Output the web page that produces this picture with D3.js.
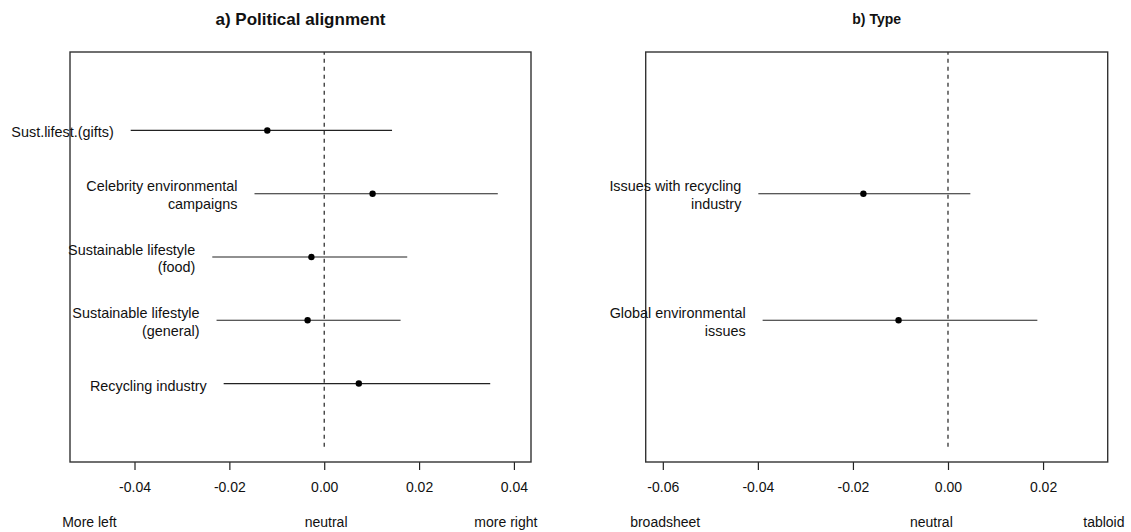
<!DOCTYPE html>
<html>
<head>
<meta charset="utf-8">
<script src="https://cdn.jsdelivr.net/npm/d3@7"></script>
<style>
  html, body { margin: 0; padding: 0; background: #fff; }
  svg { display: block; font-family: "Liberation Sans", Arial, sans-serif; }
</style>
</head>
<body>
<svg id="chart" width="1131" height="532"></svg>
<script>
// ---- Data: panel a) Political alignment ----
const leftTitle = "a) Political alignment";
const leftLabels = [["Sust.lifest.(gifts)"], ["Celebrity environmental", "campaigns"], ["Sustainable lifestyle", "(food)"], ["Sustainable lifestyle", "(general)"], ["Recycling industry"]];
const leftRows = [5, 4, 3, 2, 1];
const leftEst = [-0.0120, 0.0102, -0.0027, -0.0035, 0.0073];
const leftLo = [-0.0408, -0.0147, -0.0236, -0.0227, -0.0212];
const leftHi = [0.0143, 0.0366, 0.0175, 0.0161, 0.0350];
const leftXlim = [-0.05, 0.04];
const leftTicks = [-0.04, -0.02, 0.00, 0.02, 0.04];
const leftEnds = ["More left", "neutral", "more right"];

// ---- Data: panel b) Type ----
const rightTitle = "b) Type";
const rightLabels = [["Issues with recycling", "industry"], ["Global environmental", "issues"]];
const rightRows = [4, 2];
const rightEst = [-0.0178, -0.0104];
const rightLo = [-0.0399, -0.0390];
const rightHi = [0.0047, 0.0188];
const rightXlim = [-0.06, 0.03];
const rightTicks = [-0.06, -0.04, -0.02, 0.00, 0.02];
const rightEnds = ["broadsheet", "neutral", "tabloid"];

const ylim = [0, 6];

const svg = d3.select("#chart");
const plotTop = 52, plotBottom = 462;
const ext = (lim) => { const d = (lim[1] - lim[0]) * 0.04; return [lim[0] - d, lim[1] + d]; };
const y = d3.scaleLinear().domain(ext(ylim)).range([plotBottom, plotTop]);

function panel(cfg) {
  const x = d3.scaleLinear().domain(ext(cfg.xlim)).range([cfg.left, cfg.right]);
  const g = svg.append("g");

  // title
  g.append("text")
    .attr("x", (cfg.left + cfg.right) / 2).attr("y", 19)
    .attr("text-anchor", "middle").attr("dominant-baseline", "central")
    .attr("font-weight", "bold").attr("font-size", cfg.titleSize)
    .attr("fill", "#111").text(cfg.title);

  // dashed zero line from y=0 to top of plot
  g.append("line")
    .attr("x1", x(0)).attr("x2", x(0))
    .attr("y1", y(0)).attr("y2", plotTop)
    .attr("stroke", "#222").attr("stroke-width", 1.2)
    .attr("stroke-dasharray", "4,4");

  // axis
  const axis = d3.axisBottom(x).tickValues(cfg.ticks).tickSize(8).tickPadding(12)
    .tickFormat(d => d.toFixed(2));
  const ag = g.append("g").attr("transform", `translate(0,${plotBottom})`).call(axis);
  ag.select(".domain").remove();
  ag.selectAll(".tick line").attr("stroke", "#222").attr("stroke-width", 1.2);
  ag.selectAll(".tick text").attr("font-size", 14).attr("fill", "#111")
    .attr("font-family", "Liberation Sans, Arial, sans-serif");

  // box
  g.append("rect")
    .attr("x", cfg.left).attr("y", plotTop)
    .attr("width", cfg.right - cfg.left).attr("height", plotBottom - plotTop)
    .attr("fill", "none").attr("stroke", "#333").attr("stroke-width", 1.4);

  // intervals
  const idx = d3.range(cfg.rows.length);
  g.selectAll("line.ci").data(idx).join("line")
    .attr("class", "ci")
    .attr("x1", i => x(cfg.lo[i])).attr("x2", i => x(cfg.hi[i]))
    .attr("y1", i => y(cfg.rows[i])).attr("y2", i => y(cfg.rows[i]))
    .attr("stroke", "#222").attr("stroke-width", 1.2);
  g.selectAll("circle.pt").data(idx).join("circle")
    .attr("class", "pt")
    .attr("cx", i => x(cfg.est[i])).attr("cy", i => y(cfg.rows[i]))
    .attr("r", 3.2).attr("fill", "#000");

  // labels
  idx.forEach(i => {
    const lines = cfg.labels[i];
    const ry = y(cfg.rows[i]);
    const lx = x(cfg.lo[i]) - 17;
    const lh = 17.5;
    const y0 = ry + 1.5 - (lines.length - 1) * lh / 2 + (lines.length === 1 ? 0.5 : 0);
    const t = g.append("text").attr("text-anchor", "end").attr("font-size", 14.4).attr("fill", "#111");
    lines.forEach((s, k) => {
      t.append("tspan").attr("x", lx).attr("y", y0 + k * lh).attr("dominant-baseline", "central").text(s);
    });
  });

  // end labels under the axis
  cfg.ends.forEach((s, k) => {
    g.append("text")
      .attr("x", x(cfg.endAt[k])).attr("y", 522)
      .attr("text-anchor", "middle").attr("dominant-baseline", "central")
      .attr("font-size", 14).attr("fill", "#111").text(s);
  });
}

panel({
  left: 70, right: 531, xlim: leftXlim, ticks: leftTicks, title: leftTitle, titleSize: 17,
  rows: leftRows, est: leftEst, lo: leftLo, hi: leftHi, labels: leftLabels,
  ends: leftEnds, endAt: [-0.0495, 0.0004, 0.0383]
});
panel({
  left: 645.7, right: 1107.7, xlim: rightXlim, ticks: rightTicks, title: rightTitle, titleSize: 14,
  rows: rightRows, est: rightEst, lo: rightLo, hi: rightHi, labels: rightLabels,
  ends: rightEnds, endAt: [-0.0595, -0.0035, 0.0328]
});
</script>
</body>
</html>
